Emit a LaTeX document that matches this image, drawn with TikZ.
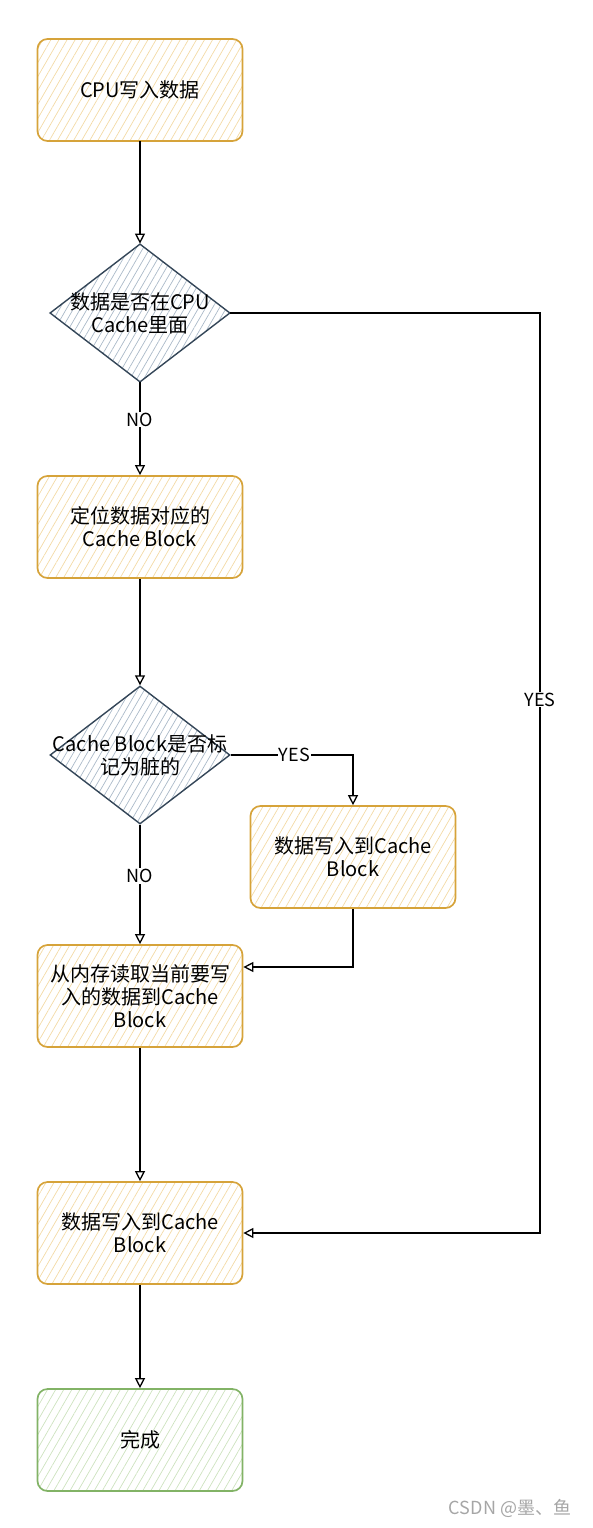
\documentclass[tikz,border=0pt]{standalone}
\usepackage{fontspec}
\setmainfont{Noto Sans CJK SC}
\usetikzlibrary{shapes.geometric, arrows.meta, patterns.meta}

\definecolor{boxline}{RGB}{214,163,58}
\definecolor{boxhatch}{RGB}{243,218,165}
\definecolor{doneline}{RGB}{130,179,102}
\definecolor{donehatch}{RGB}{205,226,190}
\definecolor{askline}{RGB}{52,70,88}
\definecolor{askhatch}{RGB}{170,185,200}

\begin{document}
\begin{tikzpicture}[x = 1pt, y = -1pt,
    every node/.style = {font = \fontsize{20}{23}\selectfont, align = center},
    process/.style = {rectangle, rounded corners = 10pt, draw = boxline, line width = 1.7pt,
        pattern = {Lines[angle = 60, distance = 7pt, line width = 0.7pt]}, pattern color = boxhatch,
        minimum width = 205pt, minimum height = 102pt},
    done/.style = {process, draw = doneline, pattern color = donehatch},
    decision/.style = {diamond, draw = askline, line width = 1.4pt, inner sep = 0pt,
        pattern = {Lines[angle = 60, distance = 6pt, line width = 0.7pt]}, pattern color = askhatch,
        minimum width = 180pt, minimum height = 138pt},
    arrow/.style = {draw = black, line width = 1.3pt, -{Triangle[open, length = 10pt, width = 10pt]}},
    lbl/.style = {fill = white, inner sep = 1pt, font = \fontsize{18}{20}\selectfont}]
    \useasboundingbox (0,0) rectangle (592,1528);

    % boxes and questions, top to bottom
    \node[process] (write) at (140,90) {CPU写入数据};
    \node[decision] (incache) at (140,313) {};
    \node (incachetext) at (incache) {数据是否在CPU\\Cache里面};
    \node[process] (locate) at (140,527) {定位数据对应的\\Cache Block};
    \node[decision] (dirty) at (140,755) {};
    \node (dirtytext) at (dirty) {Cache Block是否标\\记为脏的};
    \node[process] (flush) at (353,857) {数据写入到Cache\\Block};
    \node[process] (load) at (140,996) {从内存读取当前要写\\入的数据到Cache\\Block};
    \node[process] (store) at (140,1233) {数据写入到Cache\\Block};
    \node[done] (finish) at (140,1440) {完成};

    % connectors
    \draw[arrow] (write) -- (incache);
    \draw[arrow] (incache) -- node[lbl, pos = 0.4] {NO} (locate);
    \coordinate (hitturn) at (540,313);
    \draw[arrow] (incache.east) -- (hitturn) |- node[lbl, pos = 0.21] {YES} (store.east);
    \draw[arrow] (locate) -- (dirty);
    \draw[arrow] (dirty.east) -| node[lbl, pos = 0.26] {YES} (flush.north);
    \draw[arrow] (dirty) -- node[lbl, pos = 0.43] {NO} (load);
    \draw[arrow] (flush.south) |- ([yshift = 29pt]load.east);
    \draw[arrow] (load) -- (store);
    \draw[arrow] (store) -- (finish);

    \node[text = gray!70, font = \fontsize{18}{20}\selectfont] (mark) at (510,1508) {CSDN @墨、鱼};
\end{tikzpicture}
\end{document}
